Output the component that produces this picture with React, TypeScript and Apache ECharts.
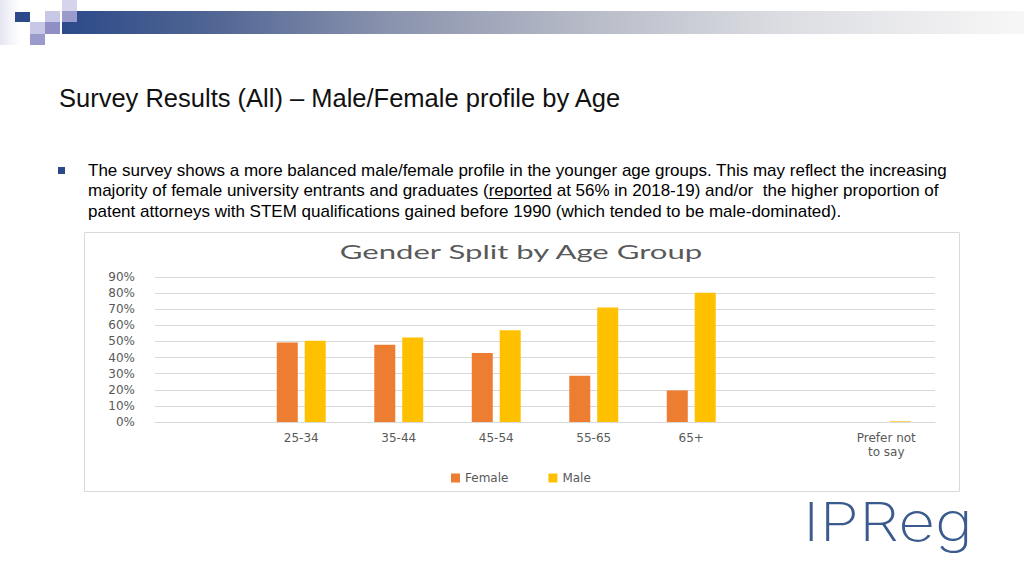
import React, { useEffect, useRef } from 'react';
import * as echarts from 'echarts';

const categories = ['', '25-34', '35-44', '45-54', '55-65', '65+', '', 'Prefer not\nto say'];
const femaleValues = [null, 49.4, 48.0, 42.8, 28.7, 19.6, null, 0];
const maleValues = [null, 50.5, 52.5, 56.9, 71.1, 80.3, null, 0.4];
const seriesNames = ['Female', 'Male'];
const seriesColors = ['#ED7D31', '#FFC000'];
const yMax = 90;
const yInterval = 10;

const chartTitle = 'Gender Split by Age Group';
const slideTitle = 'Survey Results (All) \u2013 Male/Female profile by Age';
const bulletLine1 = 'The survey shows a more balanced male/female profile in the younger age groups. This may reflect the increasing';
const bulletLine2a = 'majority of female university entrants and graduates (';
const bulletLine2b = 'reported';
const bulletLine2c = ' at 56% in 2018-19) and/or  the higher proportion of';
const bulletLine3 = 'patent attorneys with STEM qualifications gained before 1990 (which tended to be male-dominated).';
const logoText = 'IPReg';

const SLIDE_FONT = '"Liberation Sans", Arial, sans-serif';
const CHART_FONT = '"DejaVu Sans", sans-serif';
const TITLE_FONT = 'Lato, "DejaVu Sans", sans-serif';
const LOGO_FONT = 'Inter, Lato, sans-serif';

function measure(text: string, size: number, family: string, weight: string | number = 'normal'): number {
  const c = document.createElement('canvas').getContext('2d');
  if (!c) return text.length * size * 0.5;
  c.font = `${weight} ${size}px ${family}`;
  return c.measureText(text).width;
}

export default function App() {
  const ref = useRef<HTMLDivElement>(null);
  useEffect(() => {
    if (!ref.current) return;
    const chart = echarts.init(ref.current, null, { renderer: 'svg' });
    const bodySize = 17;
    const bx = 88;
    const w2a = measure(bulletLine2a, bodySize, SLIDE_FONT);
    const w2b = measure(bulletLine2b, bodySize, SLIDE_FONT);
    const titleSize = 19;
    const titleScale = 365 / Math.max(1, measure(chartTitle, titleSize, TITLE_FONT));
    const logoSize = 54;
    const logoScale = 170 / Math.max(1, measure(logoText, logoSize, LOGO_FONT, 200));

    const squares = [
      { x: 15, y: 12, w: 15, h: 10, c: '#2c4a8a' },
      { x: 45, y: 11, w: 15, h: 11, c: '#c8c8e4' },
      { x: 62, y: 0, w: 15, h: 11, c: '#d4d4ec' },
      { x: 62, y: 11, w: 15, h: 11, c: '#9a9acb' },
      { x: 30, y: 22, w: 15, h: 12, c: '#c8c8e6' },
      { x: 45, y: 22, w: 15, h: 12, c: '#8f8fc6' },
      { x: 30, y: 34, w: 15, h: 11, c: '#9a9acc' },
    ];

    const graphics: any[] = [
      {
        type: 'rect', z: -10, silent: true,
        shape: { x: 0, y: 0, width: 20, height: 45 },
        style: {
          fill: new echarts.graphic.LinearGradient(0, 0, 1, 0, [
            { offset: 0, color: '#e6e6f3' },
            { offset: 1, color: '#ffffff' },
          ]),
        },
      },
      {
        type: 'rect', z: -10, silent: true,
        shape: { x: 62, y: 11, width: 962, height: 23 },
        style: {
          fill: new echarts.graphic.LinearGradient(0, 0, 1, 0, [
            { offset: 0, color: '#2c4a8a' },
            { offset: 0.15, color: '#4f6493' },
            { offset: 0.34, color: '#8a93ad' },
            { offset: 0.55, color: '#b8bcc8' },
            { offset: 0.75, color: '#dcdde2' },
            { offset: 1, color: '#f7f7f7' },
          ]),
        },
      },
      ...squares.map((s) => ({
        type: 'rect', z: -9, silent: true,
        shape: { x: s.x, y: s.y, width: s.w, height: s.h },
        style: { fill: s.c },
      })),
      {
        type: 'text', x: 59, y: 98,
        style: { text: slideTitle, fontSize: 25.5, fontFamily: SLIDE_FONT, fill: '#111111', verticalAlign: 'middle' },
      },
      {
        type: 'rect', silent: true,
        shape: { x: 58, y: 167, width: 7, height: 7 },
        style: { fill: '#2c4a8a' },
      },
      {
        type: 'text', x: bx, y: 170,
        style: { text: bulletLine1, fontSize: bodySize, fontFamily: SLIDE_FONT, fill: '#000000', verticalAlign: 'middle' },
      },
      {
        type: 'text', x: bx, y: 190.5,
        style: { text: bulletLine2a, fontSize: bodySize, fontFamily: SLIDE_FONT, fill: '#000000', verticalAlign: 'middle' },
      },
      {
        type: 'text', x: bx + w2a, y: 190.5,
        style: { text: bulletLine2b, fontSize: bodySize, fontFamily: SLIDE_FONT, fill: '#000000', verticalAlign: 'middle' },
      },
      {
        type: 'line', silent: true,
        shape: { x1: bx + w2a, y1: 198.5, x2: bx + w2a + w2b, y2: 198.5 },
        style: { stroke: '#000000', lineWidth: 1 },
      },
      {
        type: 'text', x: bx + w2a + w2b, y: 190.5,
        style: { text: bulletLine2c, fontSize: bodySize, fontFamily: SLIDE_FONT, fill: '#000000', verticalAlign: 'middle' },
      },
      {
        type: 'text', x: bx, y: 211,
        style: { text: bulletLine3, fontSize: bodySize, fontFamily: SLIDE_FONT, fill: '#000000', verticalAlign: 'middle' },
      },
      {
        type: 'rect', z: -10, silent: true,
        shape: { x: 84.5, y: 232.5, width: 875, height: 259 },
        style: { fill: '#ffffff', stroke: '#d9d9d9', lineWidth: 1 },
      },
      {
        type: 'text', x: 521, y: 252, scaleX: titleScale,
        style: { text: chartTitle, fontSize: titleSize, fontFamily: TITLE_FONT, fill: '#595959', align: 'center', verticalAlign: 'middle' },
      },
      {
        type: 'text', x: 888, y: 521, scaleX: logoScale,
        style: { text: logoText, fontSize: logoSize, fontFamily: LOGO_FONT, fontWeight: 200, fill: '#3b5b8e', align: 'center', verticalAlign: 'middle' },
      },
    ];

    chart.setOption({
      animation: false,
      backgroundColor: '#ffffff',
      textStyle: { fontFamily: CHART_FONT },
      grid: { left: 155, right: 89, top: 277, bottom: 154, containLabel: false },
      legend: {
        data: seriesNames,
        left: 446, top: 467,
        icon: 'rect', itemWidth: 9, itemHeight: 9, itemGap: 40,
        textStyle: { fontSize: 12, color: '#595959', fontFamily: CHART_FONT },
      },
      xAxis: {
        type: 'category',
        data: categories,
        axisTick: { show: false },
        axisLine: { lineStyle: { color: '#d9d9d9' } },
        axisLabel: { color: '#595959', fontSize: 12, margin: 9, lineHeight: 14, interval: 0 },
      },
      yAxis: {
        type: 'value',
        min: 0, max: yMax, interval: yInterval,
        axisLine: { show: false },
        axisTick: { show: false },
        splitLine: { lineStyle: { color: '#d9d9d9' } },
        axisLabel: { color: '#595959', fontSize: 12, margin: 20, formatter: '{value}%' },
      },
      series: [
        { name: seriesNames[0], type: 'bar', data: femaleValues, barWidth: 21, barGap: '33%', itemStyle: { color: seriesColors[0] } },
        { name: seriesNames[1], type: 'bar', data: maleValues, barWidth: 21, barGap: '33%', itemStyle: { color: seriesColors[1] } },
      ],
      graphic: { elements: graphics },
    });
    return () => chart.dispose();
  }, []);
  return <div ref={ref} style={{ position: 'fixed', left: 0, top: 0, width: 1024, height: 576 }} />;
}
